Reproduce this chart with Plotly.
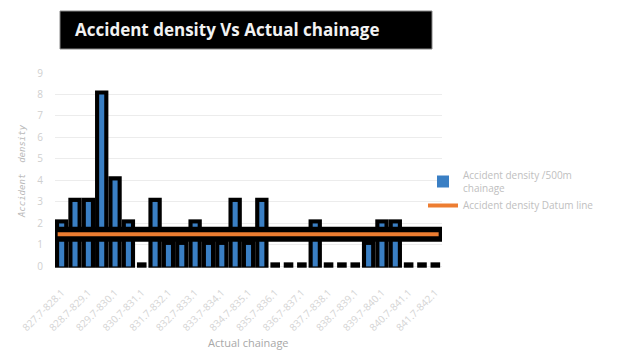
import plotly.graph_objects as go

tick_labels = ["827.7-828.1", "828.7-829.1", "829.7-830.1", "830.7-831.1", "831.7-832.1",
               "832.7-833.1", "833.7-834.1", "834.7-835.1", "835.7-836.1", "836.7-837.1",
               "837.7-838.1", "838.7-839.1", "839.7-840.1", "840.7-841.1", "841.7-842.1"]
density = [2, 3, 3, 8, 4, 2, 0, 3, 1, 1, 2, 1, 1, 3, 1, 3, 0, 0, 0, 2, 0, 0, 0, 1, 2, 2, 0, 0, 0]
datum = 1.5

n = len(density)
idx = list(range(n))
tick_pos = idx[::2]

fig = go.Figure()
# black outline bars
fig.add_bar(x=idx, y=[v + 0.25 for v in density], base=-0.06,
            width=[1.0 if v > 0 else 0.72 for v in density],
            marker=dict(color="black", line=dict(width=0)), showlegend=False, hoverinfo="skip")
# blue bars
fig.add_bar(x=idx, y=density, width=0.38,
            marker=dict(color="#3a7fc4", line=dict(width=0)),
            name="Accident density /500m<br>chainage")
# datum band
fig.add_scatter(x=[-0.5, n - 0.5], y=[datum, datum], mode="lines",
                line=dict(color="black", width=15), showlegend=False, hoverinfo="skip")
fig.add_scatter(x=[-0.3, n - 0.75], y=[datum, datum], mode="lines",
                line=dict(color="#ed7d31", width=4), name="Accident density Datum line")

L, R, T, B = 55, 190, 73, 82
W, H = 632, 351
pw = W - L - R
ph = H - T - B

def px_x(p):
    return (p - L) / pw

def px_y(p):
    return (H - B - p) / ph

fig.add_shape(type="rect", xref="paper", yref="paper",
              x0=px_x(60), x1=px_x(432), y0=px_y(49), y1=px_y(11),
              fillcolor="black", line=dict(color="#888", width=1), layer="above")
fig.add_annotation(text="<b>Accident density Vs Actual chainage</b>", xref="paper", yref="paper",
                   x=px_x(73), y=px_y(30), xanchor="left", yanchor="middle", showarrow=False,
                   font=dict(family="Open Sans", size=17, color="#f2f2f2"))
fig.add_annotation(text="Actual chainage", xref="paper", yref="paper",
                   x=px_x(248), y=px_y(342), xanchor="center", yanchor="middle", showarrow=False,
                   font=dict(family="Open Sans", size=11, color="#a8a8a8"))

fig.update_layout(
    width=W, height=H,
    margin=dict(l=L, r=R, t=T, b=B),
    barmode="overlay",
    plot_bgcolor="white", paper_bgcolor="white",
    font=dict(family="Open Sans", color="#c8c8c8"),
    legend=dict(x=px_x(423), y=px_y(162), xanchor="left", yanchor="top",
                font=dict(size=10, color="#c0c0c0"), bgcolor="rgba(0,0,0,0)",
                tracegroupgap=14, itemwidth=30),
    xaxis=dict(range=[-0.5, n - 0.5], tickvals=tick_pos, ticktext=tick_labels,
               tickangle=-45, tickfont=dict(size=10, color="#d4d4d4"),
               ticks="outside", ticklen=13, tickcolor="rgba(0,0,0,0)",
               showgrid=False, zeroline=False, showline=False, automargin=False),
    yaxis=dict(range=[-0.12, 9.0], tickvals=list(range(10)), tickfont=dict(size=10, color="#cfcfcf"),
               ticks="outside", ticklen=9, tickcolor="rgba(0,0,0,0)",
               showgrid=True, gridcolor="#ececec", zeroline=False, showline=False, automargin=False,
               title=dict(text="<i>Accident  density</i>", font=dict(family="DejaVu Sans Mono", size=9, color="#b8b8b8"), standoff=10)),
)

fig.write_html("out.html")
